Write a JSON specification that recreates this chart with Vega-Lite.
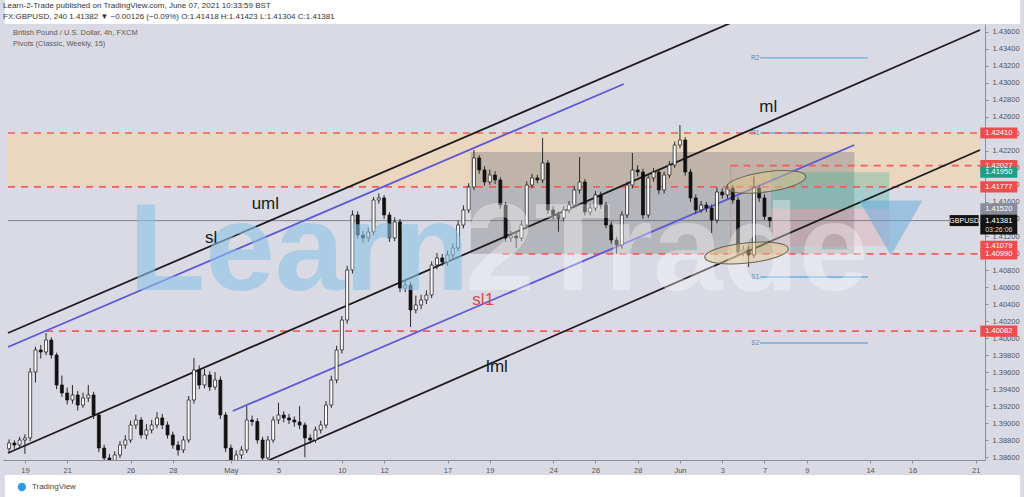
{
"$schema": "https://vega.github.io/schema/vega-lite/v6.json",
"width": 982, "height": 436,
"autosize": {"type": "none"},
"padding": {"left": 3, "top": 24, "right": 39, "bottom": 37},
"background": "#d9dae3",
"config": {"view": {"stroke": null}, "font": "Liberation Sans",
 "axis": {"labelFont": "Liberation Sans", "labelFontSize": 7.5, "labelColor": "#555555", "domainColor": "#8d8d96", "tickColor": "#8d8d96", "tickSize": 3, "grid": false, "labelOverlap": false, "labelFlush": false, "labelBound": false}},
"title": {"text": "Learn-2-Trade published on TradingView.com, June 07, 2021 10:33:59 BST", "subtitle": "FX:GBPUSD, 240  1.41382 ▼ −0.00126 (−0.09%)  O:1.41418  H:1.41423  L:1.41304  C:1.41381", "anchor": "start", "frame": "group", "fontSize": 8, "fontWeight": "normal", "color": "#333333", "subtitleFontSize": 8, "subtitleColor": "#333333", "subtitlePadding": 3, "offset": -21, "zindex": 1, "font": "Liberation Sans", "subtitleFont": "Liberation Sans"},
"datasets": {
 "zones": [
  {"kind": "zone", "t": -0.8, "t2": 45.2, "p": 1.42410, "p2": 1.41777},
  {"kind": "box", "t": 21.1, "t2": 39.25, "p": 1.42187, "p2": 1.40990},
  {"kind": "tp", "t": 35.3, "t2": 40.9, "p": 1.41950, "p2": 1.41520},
  {"kind": "stop", "t": 35.3, "t2": 40.9, "p": 1.41520, "p2": 1.41079}
 ],
 "levels": [
  {"t": -0.8, "t2": 45.2, "p": 1.42410},
  {"t": -0.8, "t2": 45.2, "p": 1.41777},
  {"t": 33.4, "t2": 45.2, "p": 1.42027},
  {"t": 22.6, "t2": 45.2, "p": 1.40990},
  {"t": 1.0, "t2": 45.2, "p": 1.40082}
 ],
 "price": [{"t": -0.8, "t2": 45.2, "p": 1.41381}],
 "vline": [{"t": 33.4, "p": 1.42027, "p2": 1.40990}],
 "channels": [
  {"name": "uml", "t": -0.8, "p": 1.40060, "t2": 45.2, "p2": 1.44960},
  {"name": "ml", "t": -0.8, "p": 1.38650, "t2": 45.2, "p2": 1.43620},
  {"name": "lml", "t": 11.57, "p": 1.38568, "t2": 45.2, "p2": 1.42211},
  {"name": "sl", "t": -0.8, "p": 1.39896, "t2": 28.34, "p2": 1.42986},
  {"name": "sl1", "t": 9.84, "p": 1.39144, "t2": 39.25, "p2": 1.42269}
 ],
 "pivots": [
  {"name": "R2", "t": 34.8, "t2": 39.9, "p": 1.43292},
  {"name": "R1", "t": 34.8, "t2": 39.9, "p": 1.42410},
  {"name": "S1", "t": 34.8, "t2": 39.9, "p": 1.40718},
  {"name": "S2", "t": 34.8, "t2": 39.9, "p": 1.39943}
 ],
 "labels": [
  {"text": "ml", "t": 35.18, "p": 1.42716},
  {"text": "uml", "t": 11.38, "p": 1.41576},
  {"text": "sl", "t": 8.81, "p": 1.41177},
  {"text": "lml", "t": 22.34, "p": 1.39661},
  {"text": "sl1", "t": 21.69, "p": 1.40448}
 ],
 "watermark": [
  {"text": "Learn", "t": 4.92, "p": 1.40566},
  {"text": "2Trade", "t": 20.84, "p": 1.40566}
 ],
 "mark": [{"t": 40.98, "p": 1.41294}],
 "ellipses": [
  {"name": "top", "t": 35.08, "p": 1.41835},
  {"name": "bottom", "t": 34.15, "p": 1.41000}
 ],
 "tags": [
  {"label": "1.42410", "t": 46.09, "p": 1.42410, "kind": "red"},
  {"label": "1.42027", "t": 46.09, "p": 1.42027, "kind": "red"},
  {"label": "1.41950", "t": 46.09, "p": 1.41950, "kind": "green"},
  {"label": "1.41777", "t": 46.09, "p": 1.41777, "kind": "red"},
  {"label": "1.41520", "t": 46.09, "p": 1.41520, "kind": "gray"},
  {"label": "1.41079", "t": 46.09, "p": 1.41079, "kind": "red"},
  {"label": "1.40990", "t": 46.09, "p": 1.40990, "kind": "red"},
  {"label": "1.40082", "t": 46.09, "p": 1.40082, "kind": "red"}
 ],
 "current": [{"label": "1.41381", "sub": "03:26:06", "t": 46.09, "p": 1.41381}],
 "symbol": [{"sym": "GBPUSD", "t": 44.45, "p": 1.41381}],
 "legendtext": [
  {"text": "British Pound / U.S. Dollar, 4h, FXCM", "t": -0.56, "p": 1.43585},
  {"text": "Pivots (Classic, Weekly, 15)", "t": -0.56, "p": 1.43456}
 ],
 "frame": [
  {"t": -0.95, "t2": 47.1, "p": 1.43973, "p2": 1.43691},
  {"t": -0.95, "t2": 47.1, "p": 1.38392, "p2": 1.38133}
 ],
 "footer": [{"text": "TradingView", "t": 0.33, "p": 1.38251}],
 "candles": [
{"t":-0.75,"o":1.38700,"h":1.38810,"l":1.38660,"c":1.38768},
{"t":-0.5,"o":1.38768,"h":1.38800,"l":1.38700,"c":1.38744},
{"t":-0.25,"o":1.38744,"h":1.38840,"l":1.38710,"c":1.38803},
{"t":0,"o":1.38803,"h":1.38870,"l":1.38640,"c":1.38827},
{"t":0.25,"o":1.38827,"h":1.39650,"l":1.38790,"c":1.39602},
{"t":0.5,"o":1.39602,"h":1.39900,"l":1.39480,"c":1.39861},
{"t":0.75,"o":1.39861,"h":1.39920,"l":1.39760,"c":1.39837},
{"t":1.0,"o":1.39837,"h":1.40060,"l":1.39800,"c":1.39978},
{"t":1.25,"o":1.39978,"h":1.40010,"l":1.39760,"c":1.39802},
{"t":1.5,"o":1.39802,"h":1.39830,"l":1.39400,"c":1.39449},
{"t":1.75,"o":1.39449,"h":1.39560,"l":1.39310,"c":1.39355},
{"t":2.0,"o":1.39355,"h":1.39420,"l":1.39220,"c":1.39273},
{"t":2.25,"o":1.39273,"h":1.39450,"l":1.39230,"c":1.39332},
{"t":2.5,"o":1.39332,"h":1.39380,"l":1.39150,"c":1.39214},
{"t":2.75,"o":1.39214,"h":1.39360,"l":1.39180,"c":1.39297},
{"t":3.0,"o":1.39297,"h":1.39450,"l":1.39250,"c":1.39332},
{"t":3.25,"o":1.39332,"h":1.39370,"l":1.39050,"c":1.39097},
{"t":3.5,"o":1.39097,"h":1.39130,"l":1.38660,"c":1.38709},
{"t":3.75,"o":1.38709,"h":1.38750,"l":1.38540,"c":1.38592},
{"t":4.0,"o":1.38592,"h":1.38640,"l":1.38480,"c":1.38545},
{"t":4.25,"o":1.38545,"h":1.38670,"l":1.38500,"c":1.38627},
{"t":4.5,"o":1.38627,"h":1.38790,"l":1.38590,"c":1.38744},
{"t":4.75,"o":1.38744,"h":1.38860,"l":1.38700,"c":1.38803},
{"t":5.0,"o":1.38803,"h":1.39030,"l":1.38770,"c":1.38979},
{"t":5.25,"o":1.38979,"h":1.39100,"l":1.38930,"c":1.39038},
{"t":5.5,"o":1.39038,"h":1.39070,"l":1.38820,"c":1.38862},
{"t":5.75,"o":1.38862,"h":1.38990,"l":1.38810,"c":1.38921},
{"t":6.0,"o":1.38921,"h":1.39040,"l":1.38880,"c":1.38979},
{"t":6.25,"o":1.38979,"h":1.39130,"l":1.38940,"c":1.39062},
{"t":6.5,"o":1.39062,"h":1.39110,"l":1.38930,"c":1.38979},
{"t":6.75,"o":1.38979,"h":1.39020,"l":1.38820,"c":1.38862},
{"t":7.0,"o":1.38862,"h":1.38900,"l":1.38700,"c":1.38744},
{"t":7.25,"o":1.38744,"h":1.38790,"l":1.38620,"c":1.38686},
{"t":7.5,"o":1.38686,"h":1.38850,"l":1.38650,"c":1.38803},
{"t":7.75,"o":1.38803,"h":1.39320,"l":1.38770,"c":1.39273},
{"t":8.0,"o":1.39273,"h":1.39767,"l":1.39230,"c":1.39626},
{"t":8.25,"o":1.39626,"h":1.39680,"l":1.39400,"c":1.39449},
{"t":8.5,"o":1.39449,"h":1.39640,"l":1.39410,"c":1.39567},
{"t":8.75,"o":1.39567,"h":1.39610,"l":1.39380,"c":1.39426},
{"t":9.0,"o":1.39426,"h":1.39600,"l":1.39390,"c":1.39508},
{"t":9.25,"o":1.39508,"h":1.39550,"l":1.39050,"c":1.39097},
{"t":9.5,"o":1.39097,"h":1.39130,"l":1.38660,"c":1.38709},
{"t":9.75,"o":1.38709,"h":1.38750,"l":1.38490,"c":1.38545},
{"t":10.0,"o":1.38545,"h":1.38680,"l":1.38500,"c":1.38627},
{"t":10.25,"o":1.38627,"h":1.38730,"l":1.38580,"c":1.38686},
{"t":10.5,"o":1.38686,"h":1.39200,"l":1.38650,"c":1.39038},
{"t":10.75,"o":1.39038,"h":1.39090,"l":1.38970,"c":1.39020},
{"t":11.0,"o":1.39020,"h":1.39060,"l":1.38760,"c":1.38803},
{"t":11.25,"o":1.38803,"h":1.38840,"l":1.38540,"c":1.38592},
{"t":11.5,"o":1.38592,"h":1.38850,"l":1.38560,"c":1.38803},
{"t":11.75,"o":1.38803,"h":1.39080,"l":1.38770,"c":1.39038},
{"t":12.0,"o":1.39038,"h":1.39240,"l":1.38990,"c":1.39097},
{"t":12.25,"o":1.39097,"h":1.39140,"l":1.39010,"c":1.39062},
{"t":12.5,"o":1.39062,"h":1.39110,"l":1.38990,"c":1.39038},
{"t":12.75,"o":1.39038,"h":1.39080,"l":1.38960,"c":1.39015},
{"t":13.0,"o":1.39015,"h":1.39200,"l":1.38930,"c":1.38979},
{"t":13.25,"o":1.38979,"h":1.39010,"l":1.38600,"c":1.38827},
{"t":13.5,"o":1.38827,"h":1.38870,"l":1.38760,"c":1.38803},
{"t":13.75,"o":1.38803,"h":1.38960,"l":1.38770,"c":1.38921},
{"t":14.0,"o":1.38921,"h":1.39030,"l":1.38880,"c":1.38979},
{"t":14.25,"o":1.38979,"h":1.39260,"l":1.38940,"c":1.39214},
{"t":14.5,"o":1.39214,"h":1.39560,"l":1.39180,"c":1.39508},
{"t":14.75,"o":1.39508,"h":1.39910,"l":1.39470,"c":1.39861},
{"t":15.0,"o":1.39861,"h":1.40260,"l":1.39820,"c":1.40213},
{"t":15.25,"o":1.40213,"h":1.40850,"l":1.40170,"c":1.40801},
{"t":15.5,"o":1.40801,"h":1.41500,"l":1.40760,"c":1.41447},
{"t":15.75,"o":1.41447,"h":1.41490,"l":1.41170,"c":1.41212},
{"t":16.0,"o":1.41212,"h":1.41260,"l":1.41120,"c":1.41177},
{"t":16.25,"o":1.41177,"h":1.41300,"l":1.41130,"c":1.41247},
{"t":16.5,"o":1.41247,"h":1.41660,"l":1.41210,"c":1.41623},
{"t":16.75,"o":1.41623,"h":1.41700,"l":1.41580,"c":1.41647},
{"t":17.0,"o":1.41647,"h":1.41680,"l":1.41400,"c":1.41447},
{"t":17.25,"o":1.41447,"h":1.41480,"l":1.41130,"c":1.41177},
{"t":17.5,"o":1.41177,"h":1.41420,"l":1.41140,"c":1.41365},
{"t":17.75,"o":1.41365,"h":1.41400,"l":1.40540,"c":1.40589},
{"t":18.0,"o":1.40589,"h":1.40680,"l":1.40540,"c":1.40624},
{"t":18.25,"o":1.40624,"h":1.40660,"l":1.40131,"c":1.40331},
{"t":18.5,"o":1.40331,"h":1.40500,"l":1.40290,"c":1.40389},
{"t":18.75,"o":1.40389,"h":1.40510,"l":1.40340,"c":1.40448},
{"t":19.0,"o":1.40448,"h":1.40560,"l":1.40400,"c":1.40507},
{"t":19.25,"o":1.40507,"h":1.40900,"l":1.40470,"c":1.40859},
{"t":19.5,"o":1.40859,"h":1.41000,"l":1.40810,"c":1.40942},
{"t":19.75,"o":1.40942,"h":1.40990,"l":1.40850,"c":1.40895},
{"t":20.0,"o":1.40895,"h":1.41030,"l":1.40850,"c":1.40977},
{"t":20.25,"o":1.40977,"h":1.41110,"l":1.40930,"c":1.41059},
{"t":20.5,"o":1.41059,"h":1.41380,"l":1.41020,"c":1.41329},
{"t":20.75,"o":1.41329,"h":1.41560,"l":1.41290,"c":1.41506},
{"t":21.0,"o":1.41506,"h":1.41820,"l":1.41470,"c":1.41776},
{"t":21.25,"o":1.41776,"h":1.42211,"l":1.41740,"c":1.42117},
{"t":21.5,"o":1.42117,"h":1.42150,"l":1.41930,"c":1.41976},
{"t":21.75,"o":1.41976,"h":1.42020,"l":1.41790,"c":1.41835},
{"t":22.0,"o":1.41835,"h":1.41980,"l":1.41800,"c":1.41917},
{"t":22.25,"o":1.41917,"h":1.41960,"l":1.41810,"c":1.41858},
{"t":22.5,"o":1.41858,"h":1.41890,"l":1.41520,"c":1.41564},
{"t":22.75,"o":1.41564,"h":1.41600,"l":1.41130,"c":1.41177},
{"t":23.0,"o":1.41177,"h":1.41260,"l":1.41130,"c":1.41200},
{"t":23.25,"o":1.41200,"h":1.41250,"l":1.41059,"c":1.41177},
{"t":23.5,"o":1.41177,"h":1.41380,"l":1.41140,"c":1.41329},
{"t":23.75,"o":1.41329,"h":1.41840,"l":1.41290,"c":1.41799},
{"t":24.0,"o":1.41799,"h":1.41930,"l":1.41760,"c":1.41882},
{"t":24.25,"o":1.41882,"h":1.41920,"l":1.41820,"c":1.41858},
{"t":24.5,"o":1.41858,"h":1.42352,"l":1.41820,"c":1.42058},
{"t":24.75,"o":1.42058,"h":1.42090,"l":1.41460,"c":1.41506},
{"t":25.0,"o":1.41506,"h":1.41550,"l":1.41400,"c":1.41447},
{"t":25.25,"o":1.41447,"h":1.41490,"l":1.41250,"c":1.41412},
{"t":25.5,"o":1.41412,"h":1.41550,"l":1.41370,"c":1.41506},
{"t":25.75,"o":1.41506,"h":1.41610,"l":1.41470,"c":1.41564},
{"t":26.0,"o":1.41564,"h":1.41790,"l":1.41530,"c":1.41741},
{"t":26.25,"o":1.41741,"h":1.42128,"l":1.41700,"c":1.41835},
{"t":26.5,"o":1.41835,"h":1.41870,"l":1.41440,"c":1.41482},
{"t":26.75,"o":1.41482,"h":1.41580,"l":1.41440,"c":1.41529},
{"t":27.0,"o":1.41529,"h":1.41730,"l":1.41490,"c":1.41682},
{"t":27.25,"o":1.41682,"h":1.41720,"l":1.41520,"c":1.41564},
{"t":27.5,"o":1.41564,"h":1.41600,"l":1.41290,"c":1.41329},
{"t":27.75,"o":1.41329,"h":1.41370,"l":1.41110,"c":1.41153},
{"t":28.0,"o":1.41153,"h":1.41190,"l":1.40990,"c":1.41094},
{"t":28.25,"o":1.41094,"h":1.41490,"l":1.41050,"c":1.41447},
{"t":28.5,"o":1.41447,"h":1.41840,"l":1.41410,"c":1.41799},
{"t":28.75,"o":1.41799,"h":1.42176,"l":1.41760,"c":1.41976},
{"t":29.0,"o":1.41976,"h":1.42030,"l":1.41900,"c":1.41952},
{"t":29.25,"o":1.41952,"h":1.41990,"l":1.41400,"c":1.41447},
{"t":29.5,"o":1.41447,"h":1.41930,"l":1.41410,"c":1.41882},
{"t":29.75,"o":1.41882,"h":1.42000,"l":1.41840,"c":1.41952},
{"t":30.0,"o":1.41952,"h":1.41990,"l":1.41690,"c":1.41741},
{"t":30.25,"o":1.41741,"h":1.41960,"l":1.41700,"c":1.41917},
{"t":30.5,"o":1.41917,"h":1.42080,"l":1.41880,"c":1.42034},
{"t":30.75,"o":1.42034,"h":1.42310,"l":1.42000,"c":1.42269},
{"t":31.0,"o":1.42269,"h":1.42504,"l":1.42230,"c":1.42328},
{"t":31.25,"o":1.42328,"h":1.42360,"l":1.41910,"c":1.41952},
{"t":31.5,"o":1.41952,"h":1.41990,"l":1.41600,"c":1.41647},
{"t":31.75,"o":1.41647,"h":1.41690,"l":1.41460,"c":1.41506},
{"t":32.0,"o":1.41506,"h":1.41610,"l":1.41470,"c":1.41564},
{"t":32.25,"o":1.41564,"h":1.41600,"l":1.41480,"c":1.41529},
{"t":32.5,"o":1.41529,"h":1.41570,"l":1.41236,"c":1.41388},
{"t":32.75,"o":1.41388,"h":1.41770,"l":1.41350,"c":1.41717},
{"t":33.0,"o":1.41717,"h":1.41760,"l":1.41640,"c":1.41682},
{"t":33.25,"o":1.41682,"h":1.41810,"l":1.41640,"c":1.41764},
{"t":33.5,"o":1.41764,"h":1.41800,"l":1.41580,"c":1.41623},
{"t":33.75,"o":1.41623,"h":1.41660,"l":1.40970,"c":1.41012},
{"t":34.0,"o":1.41012,"h":1.41090,"l":1.40960,"c":1.41036},
{"t":34.25,"o":1.41036,"h":1.41080,"l":1.40836,"c":1.40977},
{"t":34.5,"o":1.40977,"h":1.41900,"l":1.40940,"c":1.41764},
{"t":34.75,"o":1.41764,"h":1.41800,"l":1.41600,"c":1.41647},
{"t":35.0,"o":1.41647,"h":1.41690,"l":1.41390,"c":1.41430},
{"t":35.25,"o":1.41418,"h":1.41423,"l":1.41304,"c":1.41381}
 ]
},
"encoding": {
 "x": {"field": "t", "type": "quantitative", "scale": {"domain": [-0.8, 45.2], "nice": false, "zero": false},
  "axis": {"title": null, "orient": "bottom", "values": [0,2,5,7,9.75,12,15,17,20,22,25,27,29,31,33,35,37,40,42,45], "labelExpr": "['19','21','26','28','May','5','10','12','17','19','24','26','28','Jun','3','7','9','14','16','21'][indexof([0,2,5,7,9.75,12,15,17,20,22,25,27,29,31,33,35,37,40,42,45], datum.value)]", "labelPadding": 3}},
 "y": {"field": "p", "type": "quantitative", "scale": {"domain": [1.38568, 1.43691], "nice": false, "zero": false},
  "axis": {"title": null, "orient": "right", "values": [1.386,1.388,1.39,1.392,1.394,1.396,1.398,1.4,1.402,1.404,1.406,1.408,1.41,1.412,1.414,1.416,1.418,1.42,1.422,1.424,1.426,1.428,1.43,1.432,1.434,1.436], "format": ".5f", "labelPadding": 4}}
},
"layer": [
 {"data": {"name": "zones"}, "mark": {"type": "rect", "clip": true},
  "encoding": {"x2": {"field": "t2"}, "y2": {"field": "p2"},
   "fill": {"field": "kind", "type": "nominal", "scale": {"domain": ["zone","box","tp","stop"], "range": ["#f6d4a6","#8a8a8a","#30b096","#ee6673"]}, "legend": null},
   "fillOpacity": {"field": "kind", "type": "nominal", "scale": {"domain": ["zone","box","tp","stop"], "range": [0.6,0.16,0.35,0.3]}, "legend": null}}},
 {"data": {"name": "pivots"}, "mark": {"type": "rule", "color": "#6aaee0", "strokeWidth": 1.3},
  "encoding": {"x2": {"field": "t2"}}},
 {"data": {"name": "pivots"}, "mark": {"type": "text", "align": "right", "baseline": "middle", "dx": -1, "fontSize": 6.5, "color": "#5b88b5"},
  "encoding": {"text": {"field": "name"}}},
 {"data": {"name": "price"}, "mark": {"type": "rule", "color": "#6c6c76", "strokeWidth": 0.8},
  "encoding": {"x2": {"field": "t2"}}},
 {"data": {"name": "vline"}, "mark": {"type": "rule", "color": "#b89a9a", "strokeWidth": 1},
  "encoding": {"y2": {"field": "p2"}}},
 {"data": {"name": "levels"}, "mark": {"type": "rule", "color": "#ef5d5d", "strokeWidth": 1.6, "strokeDash": [7, 6]},
  "encoding": {"x2": {"field": "t2"}}},
 {"data": {"name": "channels"}, "mark": {"type": "rule", "strokeWidth": 1.8, "clip": true},
  "encoding": {"x2": {"field": "t2"}, "y2": {"field": "p2"},
   "color": {"field": "name", "type": "nominal", "scale": {"domain": ["uml","ml","lml","sl","sl1"], "range": ["#1c1c1c","#1c1c1c","#1c1c1c","#5b58d8","#5b58d8"]}, "legend": null}}},
 {"data": {"name": "candles"}, "mark": {"type": "rule", "color": "#2a2a2a", "strokeWidth": 1, "clip": true},
  "encoding": {"y": {"field": "l", "type": "quantitative", "title": null}, "y2": {"field": "h"}}},
 {"data": {"name": "candles"}, "mark": {"type": "bar", "orient": "vertical", "size": 3, "stroke": "#111111", "strokeWidth": 0.7, "clip": true},
  "encoding": {"y": {"field": "o", "type": "quantitative", "title": null}, "y2": {"field": "c"},
   "fill": {"condition": {"test": "datum.c >= datum.o", "value": "#ffffff"}, "value": "#111111"}}},
 {"data": {"name": "watermark"}, "mark": {"type": "text", "align": "left", "baseline": "alphabetic", "fontSize": 125, "fontWeight": "bold", "font": "Liberation Sans"},
  "encoding": {"text": {"field": "text"},
   "color": {"condition": {"test": "datum.text === 'Learn'", "value": "#8cc3e6"}, "value": "#ffffff"},
   "opacity": {"condition": {"test": "datum.text === 'Learn'", "value": 0.6}, "value": 0.35}}},
 {"data": {"name": "mark"}, "mark": {"type": "point", "shape": "triangle-down", "size": 4000, "filled": true, "color": "#5fa8dc", "opacity": 0.5}},
 {"data": {"name": "ellipses"}, "transform": [{"filter": "datum.name === 'top'"}],
  "mark": {"type": "point", "shape": "M-1,0A1,0.25,0,1,0,1,0A1,0.25,0,1,0,-1,0Z", "size": 6400, "angle": 352, "filled": true, "fill": "#e8c88c", "fillOpacity": 0.45, "stroke": "#66644e", "strokeWidth": 1, "opacity": 1}},
 {"data": {"name": "ellipses"}, "transform": [{"filter": "datum.name === 'bottom'"}],
  "mark": {"type": "point", "shape": "M-1,0A1,0.24,0,1,0,1,0A1,0.24,0,1,0,-1,0Z", "size": 7056, "angle": 354, "filled": true, "fill": "#e8c88c", "fillOpacity": 0.45, "stroke": "#66644e", "strokeWidth": 1, "opacity": 1}},
 {"data": {"name": "labels"}, "mark": {"type": "text", "align": "center", "baseline": "middle", "fontSize": 17},
  "encoding": {"text": {"field": "text"},
   "color": {"condition": {"test": "datum.text === 'sl1'", "value": "#e04848"}, "value": "#1a1a1a"}}},
 {"data": {"name": "legendtext"}, "mark": {"type": "text", "align": "left", "baseline": "middle", "fontSize": 7.5, "color": "#5a5a5a"},
  "encoding": {"text": {"field": "text"}}},
 {"data": {"name": "tags"}, "mark": {"type": "point", "shape": "M-1,-0.3L1,-0.3L1,0.3L-1,0.3Z", "size": 1369, "filled": true, "opacity": 1},
  "encoding": {"color": {"condition": [{"test": "datum.kind === 'green'", "value": "#1f9e88"}, {"test": "datum.kind === 'gray'", "value": "#8a8b98"}], "value": "#ef4d4d"}}},
 {"data": {"name": "tags"}, "mark": {"type": "text", "align": "center", "baseline": "middle", "fontSize": 7.5, "color": "#ffffff"},
  "encoding": {"text": {"field": "label"}}},
 {"data": {"name": "current"}, "mark": {"type": "point", "shape": "M-1,-0.54L1,-0.54L1,0.54L-1,0.54Z", "size": 1369, "filled": true, "opacity": 1, "color": "#131313", "yOffset": 4}},
 {"data": {"name": "current"}, "mark": {"type": "text", "align": "center", "baseline": "middle", "fontSize": 7.5, "color": "#ffffff"},
  "encoding": {"text": {"field": "label"}}},
 {"data": {"name": "current"}, "mark": {"type": "text", "align": "center", "baseline": "middle", "fontSize": 7, "color": "#dddddd", "dy": 9},
  "encoding": {"text": {"field": "sub"}}},
 {"data": {"name": "symbol"}, "mark": {"type": "point", "shape": "M-1,-0.38L1,-0.38L1,0.38L-1,0.38Z", "size": 841, "filled": true, "opacity": 1, "color": "#131313"}},
 {"data": {"name": "symbol"}, "mark": {"type": "text", "align": "center", "baseline": "middle", "fontSize": 7, "color": "#ffffff"},
  "encoding": {"text": {"field": "sym"}}},
 {"data": {"name": "frame"}, "mark": {"type": "rect", "fill": "#ffffff"},
  "encoding": {"x2": {"field": "t2"}, "y2": {"field": "p2"}}},
 {"data": {"name": "footer"}, "mark": {"type": "text", "align": "left", "baseline": "middle", "fontSize": 8, "color": "#444444"},
  "encoding": {"text": {"field": "text"}}},
 {"data": {"name": "footer"}, "mark": {"type": "point", "shape": "circle", "size": 70, "filled": true, "color": "#2f9be6", "opacity": 1, "xOffset": -10}}
]
}
